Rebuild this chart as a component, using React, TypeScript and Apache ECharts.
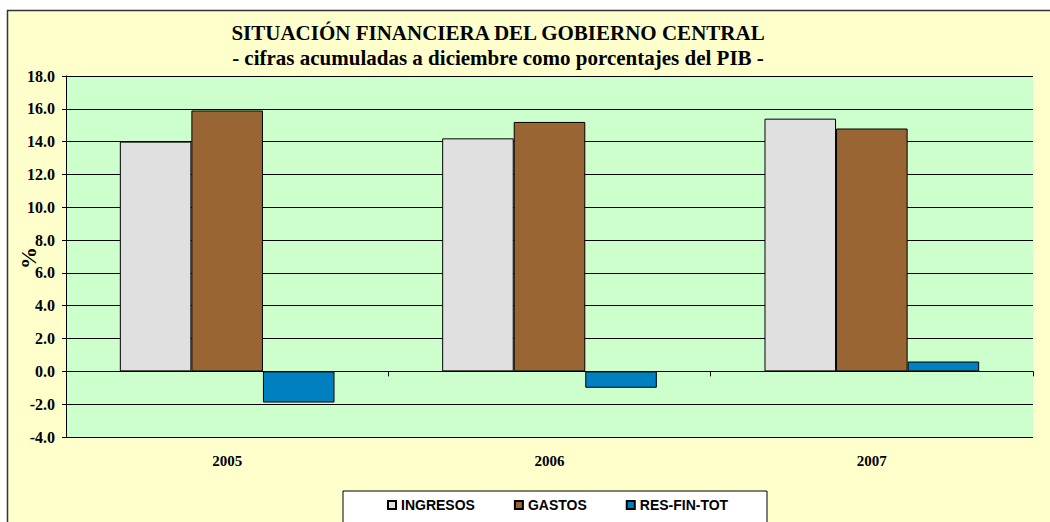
import React, { useEffect, useRef } from "react";
import * as echarts from "echarts";

const categories = ["2005", "2006", "2007"];
const ingresos = [14.0, 14.2, 15.4];
const gastos = [15.9, 15.2, 14.8];
const resFinTot = [-1.9, -1.0, 0.6];
const titleText = "SITUACIÓN FINANCIERA DEL GOBIERNO CENTRAL";
const subtitleText = "- cifras acumuladas a diciembre como porcentajes del PIB -";
const yAxisTitle = "%";

const SERIF = "'Liberation Serif', 'Times New Roman', serif";
const SANS = "'Liberation Sans', Arial, sans-serif";

export default function App() {
  const ref = useRef<HTMLDivElement>(null);
  useEffect(() => {
    if (!ref.current) return;
    const chart = echarts.init(ref.current, undefined, { renderer: "svg" });
    const barStyle = (color: string) => ({
      color,
      borderColor: "#000",
      borderWidth: 1,
    });
    chart.setOption({
      animation: false,
      backgroundColor: "#fff",
      graphic: [
        {
          type: "rect",
          z: -10,
          shape: { x: 7.5, y: 10.5, width: 1060, height: 530 },
          style: { fill: "#FFFFCC", stroke: "#333", lineWidth: 1.5 },
        },
        {
          type: "rect",
          z: -5,
          shape: { x: 343, y: 491, width: 424, height: 50 },
          style: { fill: "#fff", stroke: "#000", lineWidth: 1 },
        },
        {
          type: "text",
          x: 498,
          y: 33,
          style: {
            text: titleText,
            font: `bold 21px ${SERIF}`,
            fill: "#000",
            textAlign: "center",
            textVerticalAlign: "middle",
          },
        },
        {
          type: "text",
          x: 498,
          y: 58,
          style: {
            text: subtitleText,
            font: `bold 21px ${SERIF}`,
            fill: "#000",
            textAlign: "center",
            textVerticalAlign: "middle",
          },
        },
        {
          type: "text",
          x: 28,
          y: 258,
          rotation: Math.PI / 2,
          style: {
            text: yAxisTitle,
            font: `bold 22px ${SERIF}`,
            fill: "#000",
            textAlign: "center",
            textVerticalAlign: "middle",
          },
        },
      ],
      grid: {
        left: 66,
        top: 76,
        right: 17,
        bottom: 85,
        show: true,
        backgroundColor: "#CCFFCC",
        borderWidth: 0,
        containLabel: false,
        outerBoundsMode: "none",
      },
      legend: {
        left: 387,
        top: 498,
        padding: 0,
        itemGap: 39,
        itemWidth: 8,
        itemHeight: 8,
        icon: "rect",
        textStyle: { fontFamily: SANS, fontWeight: "bold", fontSize: 14, color: "#000" },
        data: ["INGRESOS", "GASTOS", "RES-FIN-TOT"],
      },
      xAxis: {
        type: "category",
        data: categories,
        axisLine: { onZero: true, lineStyle: { color: "#000", width: 1 } },
        axisTick: { show: true, length: 5, lineStyle: { color: "#000" } },
        axisLabel: {
          margin: 16,
          fontFamily: SERIF,
          fontWeight: "bold",
          fontSize: 15,
          color: "#000",
        },
      },
      yAxis: {
        type: "value",
        min: -4,
        max: 18,
        interval: 2,
        axisLine: { show: true, lineStyle: { color: "#000", width: 1 } },
        axisTick: { show: true, length: 4, lineStyle: { color: "#000" } },
        axisLabel: {
          margin: 11,
          formatter: (v: number) => v.toFixed(1),
          fontFamily: SERIF,
          fontWeight: "bold",
          fontSize: 16,
          color: "#000",
        },
        splitLine: { show: true, lineStyle: { color: "#000", width: 1 } },
      },
      series: [
        {
          name: "INGRESOS",
          type: "bar",
          data: ingresos,
          barGap: "0%",
          barCategoryGap: "33.4%",
          itemStyle: barStyle("#E0E0E0"),
        },
        {
          name: "GASTOS",
          type: "bar",
          data: gastos,
          itemStyle: barStyle("#996633"),
        },
        {
          name: "RES-FIN-TOT",
          type: "bar",
          data: resFinTot,
          itemStyle: barStyle("#0080C0"),
        },
      ],
    });
    return () => chart.dispose();
  }, []);
  return (
    <div
      ref={ref}
      style={{ position: "fixed", left: 0, top: 0, width: 1050, height: 522 }}
    />
  );
}
